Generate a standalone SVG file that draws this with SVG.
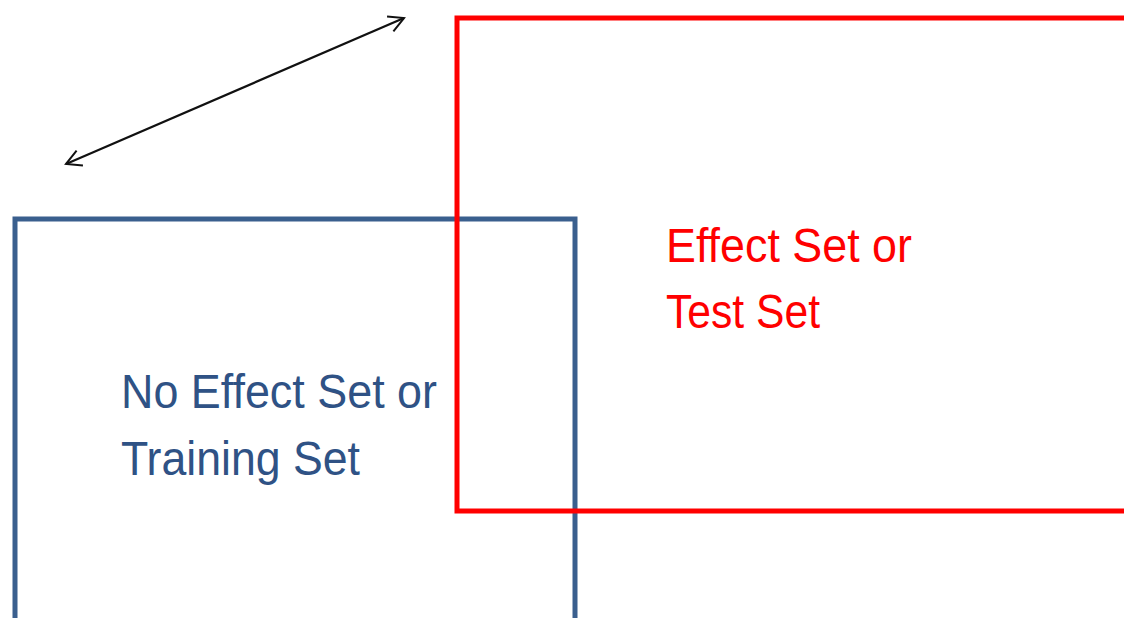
<svg xmlns="http://www.w3.org/2000/svg" width="1124" height="618" viewBox="0 0 1124 618">
<style>
.lbl{font-family:"Liberation Sans","Open Sans",sans-serif;font-size:49px}
.blue{fill:#2F5285}
.red{fill:#FF0000}
</style>
<defs>
<marker id="open" viewBox="0 0 20 20" refX="18" refY="10" markerWidth="20" markerHeight="20" markerUnits="userSpaceOnUse" orient="auto-start-reverse">
<path d="M3,2 L18,10 L3,18" fill="none" stroke="#111" stroke-width="2"/>
</marker>
</defs>
<rect width="1124" height="618" fill="#fff"/>
<g id="training-set">
<rect x="15" y="219" width="560" height="420" fill="none" stroke="#3A5F8E" stroke-width="5"/>
<text class="lbl blue" x="121" y="408" textLength="316" lengthAdjust="spacingAndGlyphs">No Effect Set or</text>
<text class="lbl blue" x="121" y="475" textLength="239" lengthAdjust="spacingAndGlyphs">Training Set</text>
</g>
<g id="test-set">
<rect x="457" y="18" width="700" height="493" fill="none" stroke="#FF0000" stroke-width="5"/>
<text class="lbl red" x="666" y="262" textLength="246" lengthAdjust="spacingAndGlyphs">Effect Set or</text>
<text class="lbl red" x="666" y="328" textLength="154" lengthAdjust="spacingAndGlyphs">Test Set</text>
</g>
<g id="connectors">
<line x1="66" y1="164" x2="404" y2="18" stroke="#111" stroke-width="2.2" marker-start="url(#open)" marker-end="url(#open)"/>
</g>
</svg>
